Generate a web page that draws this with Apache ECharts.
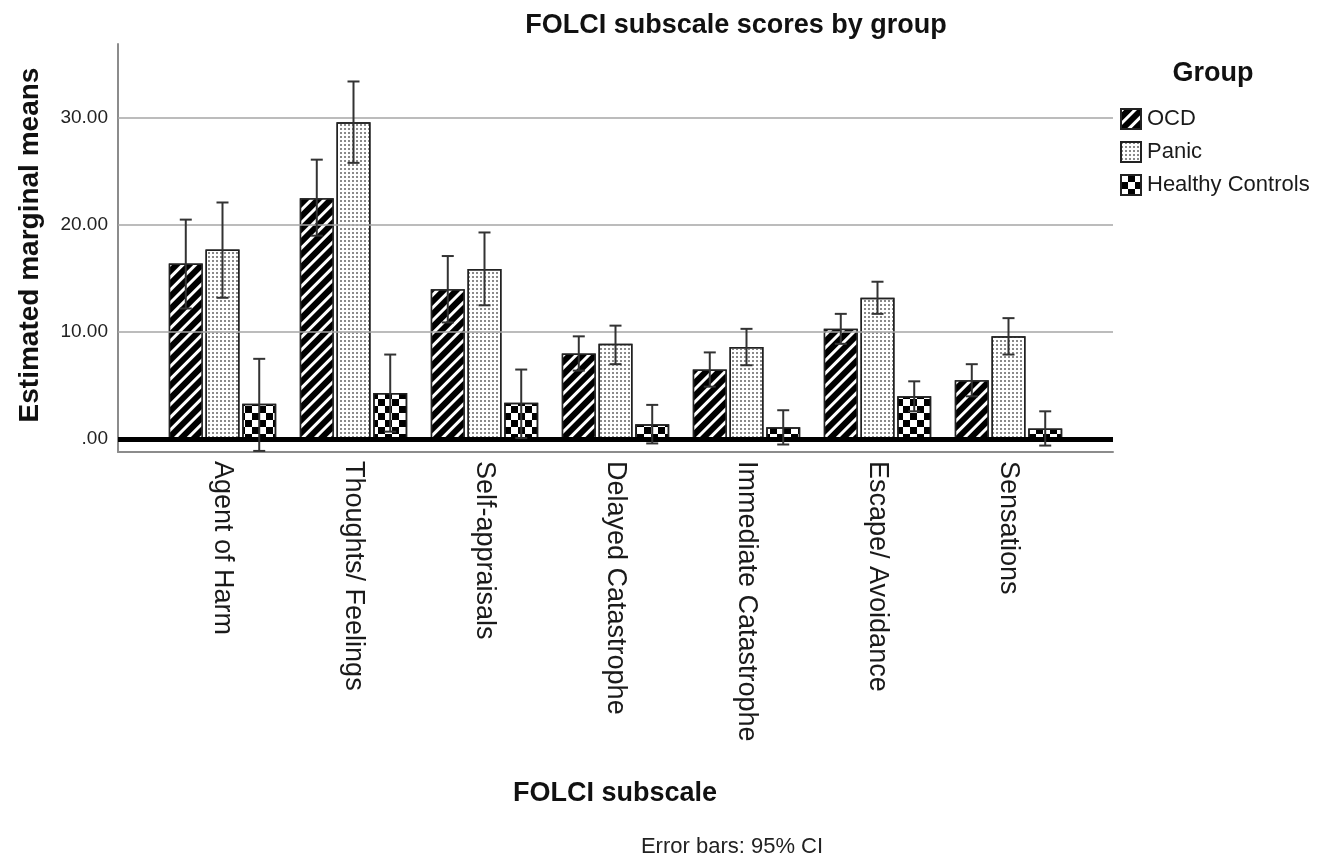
<!DOCTYPE html>
<html>
<head>
<meta charset="utf-8">
<script src="https://cdn.jsdelivr.net/npm/echarts@6/dist/echarts.min.js"></script>
<style>
  html, body { margin: 0; padding: 0; background: #fff; }
  #chart { width: 1328px; height: 862px; }
</style>
</head>
<body>
<div id="chart"></div>
<script>
  // subscales on the x axis
  var categories = ['Agent of Harm', 'Thoughts/ Feelings', 'Self-appraisals', 'Delayed Catastrophe',
    'Immediate Catastrophe', 'Escape/ Avoidance', 'Sensations'];
  var groups = ['OCD', 'Panic', 'Healthy Controls'];

  // estimated marginal means + 95% CI
  var ocdMeans = [16.4, 22.5, 14.0, 8.0, 6.5, 10.3, 5.5];
  var ocdLow = [12.2, 19.0, 10.9, 6.4, 4.9, 8.9, 4.0];
  var ocdHigh = [20.5, 26.1, 17.1, 9.6, 8.1, 11.7, 7.0];
  var panicMeans = [17.7, 29.6, 15.9, 8.9, 8.6, 13.2, 9.6];
  var panicLow = [13.2, 25.8, 12.5, 7.0, 6.9, 11.7, 7.9];
  var panicHigh = [22.1, 33.4, 19.3, 10.6, 10.3, 14.7, 11.3];
  var hcMeans = [3.3, 4.3, 3.4, 1.4, 1.1, 4.0, 1.0];
  var hcLow = [-1.1, 0.7, 0.1, -0.4, -0.5, 2.6, -0.6];
  var hcHigh = [7.5, 7.9, 6.5, 3.2, 2.7, 5.4, 2.6];

  var yTicks = [0, 10, 20, 30];
  var gridValues = [10, 20, 30];

  var yMin = -1.2, yMax = 36.9;
  var barWidth = 34, barGapRatio = 0.08;
  var barStep = barWidth * (1 + barGapRatio);
  var font = 'Liberation Sans, Arial, sans-serif';

  // hatch patterns: diagonal stripes, grey stipple, checkerboard
  var decals = [
    { symbol: 'rect', symbolSize: 1, color: '#fff', dashArrayX: [1, 0], dashArrayY: [3, 6], rotation: -Math.PI / 4 },
    { symbol: 'rect', symbolSize: 1, color: '#8a8a8a', dashArrayX: [2, 2], dashArrayY: [2, 2] },
    { symbol: 'rect', symbolSize: 1, color: '#000', dashArrayX: [[6.5, 6.5], [0, 6.5, 6.5, 0]], dashArrayY: [6.5, 0] }
  ];
  var fills = ['#000', '#fff', '#fff'];

  function barSeries(name, data, i) {
    return {
      name: name,
      type: 'bar',
      xAxisIndex: 1,
      yAxisIndex: 1,
      barWidth: barWidth,
      barGap: (barGapRatio * 100) + '%',
      z: 2,
      itemStyle: { color: fills[i], borderColor: '#222', borderWidth: 1.5, decal: decals[i] },
      data: data
    };
  }

  function errorSeries(name, low, high, i) {
    return {
      name: name + ' CI',
      type: 'custom',
      xAxisIndex: 1,
      yAxisIndex: 1,
      z: 6,
      data: low.map(function (l, k) { return [k, l, high[k]]; }),
      encode: { x: 0, y: [1, 2] },
      renderItem: function (params, api) {
        var lo = api.coord([api.value(0), api.value(1)]);
        var hi = api.coord([api.value(0), api.value(2)]);
        var cx = lo[0] + (i - 1) * barStep;
        var st = { stroke: '#333', lineWidth: 2 };
        return {
          type: 'group',
          children: [
            { type: 'line', shape: { x1: cx, y1: lo[1], x2: cx, y2: hi[1] }, style: st },
            { type: 'line', shape: { x1: cx - 6, y1: hi[1], x2: cx + 6, y2: hi[1] }, style: st },
            { type: 'line', shape: { x1: cx - 6, y1: lo[1], x2: cx + 6, y2: lo[1] }, style: st }
          ]
        };
      }
    };
  }

  var chart = echarts.init(document.getElementById('chart'));
  chart.setOption({
    animation: false,
    textStyle: { fontFamily: font },
    grid: [
      { left: 118, right: 215, top: 44, bottom: 410 },
      { left: 157, right: 254, top: 44, bottom: 410 }
    ],
    xAxis: [{
      type: 'value', gridIndex: 0, min: 0, max: 1,
      axisLine: { show: true, onZero: false, lineStyle: { color: '#8c8c8c', width: 2 } },
      axisTick: { show: false }, axisLabel: { show: false }, splitLine: { show: false }
    }, {
      type: 'category', gridIndex: 1, data: categories,
      axisLine: { show: false, onZero: false },
      axisTick: { show: false },
      axisLabel: { rotate: -90, margin: 9, fontSize: 27, color: '#1a1a1a', fontFamily: font, interval: 0 }
    }],
    yAxis: [{
      type: 'value', gridIndex: 0, min: yMin, max: yMax,
      axisLine: { show: true, lineStyle: { color: '#8c8c8c', width: 2 } },
      axisTick: { show: false },
      splitLine: { show: false },
      axisLabel: {
        customValues: yTicks, margin: 10, fontSize: 19, color: '#222', fontFamily: font,
        formatter: function (v) { return v === 0 ? '.00' : v.toFixed(2); }
      }
    }, {
      type: 'value', gridIndex: 1, min: yMin, max: yMax, show: false, splitLine: { show: false }
    }],
    legend: {
      data: groups,
      orient: 'vertical',
      left: 1115, top: 103,
      itemWidth: 20, itemHeight: 20, itemGap: 11,
      icon: 'rect',
      textStyle: { fontSize: 22, color: '#1a1a1a', fontFamily: font, padding: [0, 0, 0, 1] }
    },
    graphic: [
      { type: 'text', x: 736, y: 26, style: { text: 'FOLCI subscale scores by group', font: 'bold 27px ' + font, fill: '#111', align: 'center', verticalAlign: 'middle' } },
      { type: 'text', x: 30, y: 245, rotation: Math.PI / 2, style: { text: 'Estimated marginal means', font: 'bold 28px ' + font, fill: '#111', align: 'center', verticalAlign: 'middle' } },
      { type: 'text', x: 615, y: 794, style: { text: 'FOLCI subscale', font: 'bold 27px ' + font, fill: '#111', align: 'center', verticalAlign: 'middle' } },
      { type: 'text', x: 732, y: 847, style: { text: 'Error bars: 95% CI', font: '22px ' + font, fill: '#222', align: 'center', verticalAlign: 'middle' } },
      { type: 'text', x: 1213, y: 74, style: { text: 'Group', font: 'bold 27px ' + font, fill: '#111', align: 'center', verticalAlign: 'middle' } }
    ],
    series: [
      {
        name: 'grid lines', type: 'line', xAxisIndex: 0, yAxisIndex: 0, data: [], z: 1,
        markLine: {
          silent: true, symbol: 'none', label: { show: false },
          lineStyle: { color: '#a6a6a6', width: 1.5, type: 'solid' },
          data: gridValues.map(function (v) { return { yAxis: v }; })
        }
      },
      barSeries(groups[0], ocdMeans, 0),
      barSeries(groups[1], panicMeans, 1),
      barSeries(groups[2], hcMeans, 2),
      {
        name: 'zero line', type: 'line', xAxisIndex: 0, yAxisIndex: 0, data: [], z: 5,
        markLine: {
          silent: true, symbol: 'none', label: { show: false },
          lineStyle: { color: '#000', width: 5, type: 'solid' },
          data: [{ yAxis: 0 }]
        }
      },
      errorSeries(groups[0], ocdLow, ocdHigh, 0),
      errorSeries(groups[1], panicLow, panicHigh, 1),
      errorSeries(groups[2], hcLow, hcHigh, 2)
    ]
  });
</script>
</body>
</html>
